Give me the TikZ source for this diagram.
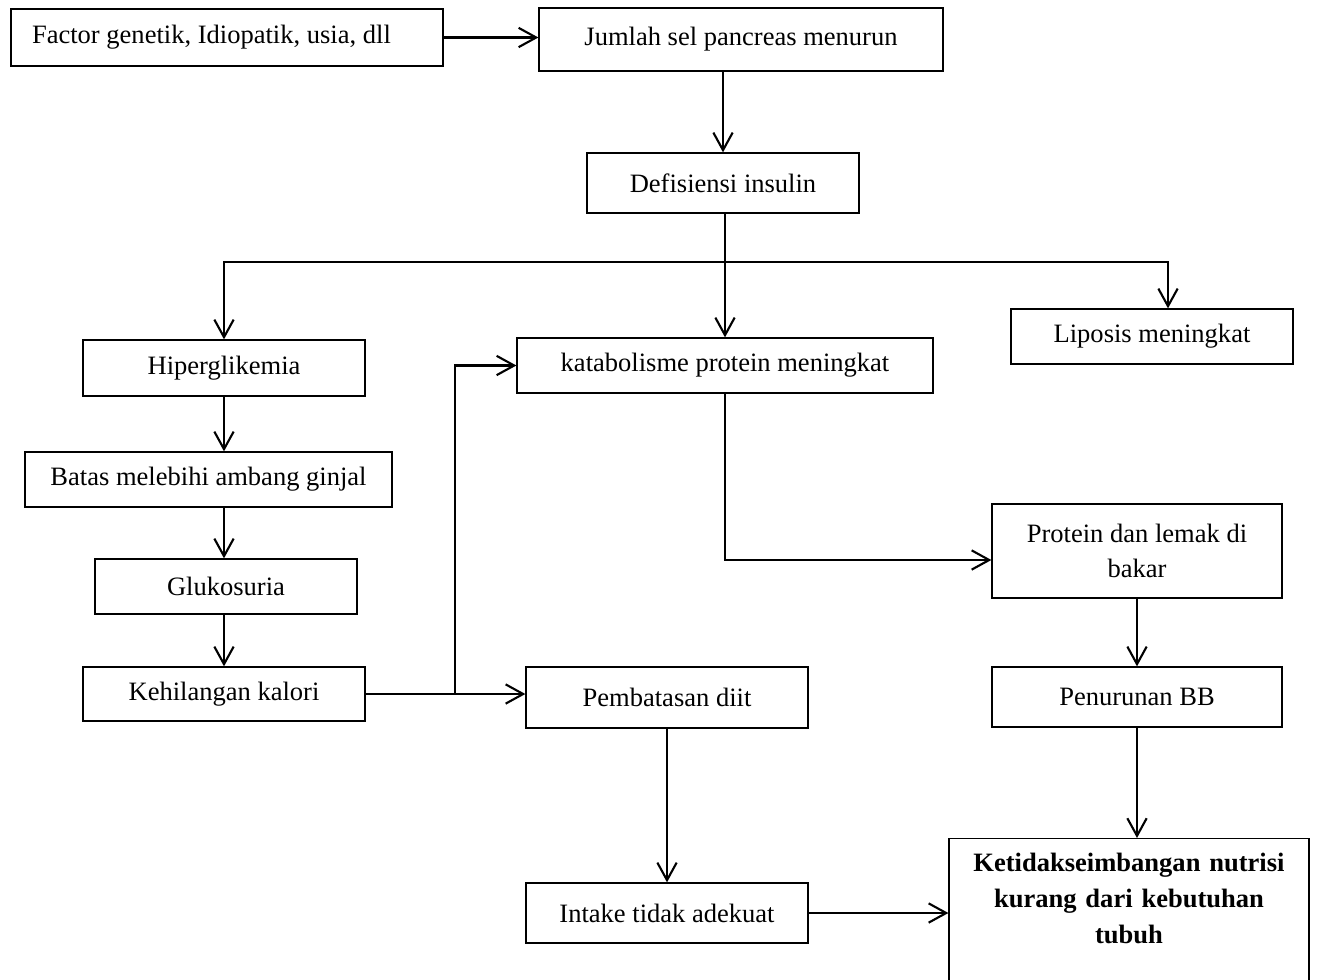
\documentclass[tikz,border=0pt]{standalone}
\usepackage{fontspec}
\setmainfont{Liberation Serif}
\usetikzlibrary{arrows.meta}

\tikzset{
  box/.style={draw, line width=0.75pt, inner sep=0pt, align=center},
  arr/.style={line width=1.2pt, -{Straight Barb[length=10pt,width=11pt]}},
  link/.style={line width=1.2pt}
}

\begin{document}
\begin{tikzpicture}[x=0.02cm, y=-0.02cm, font=\fontsize{15.1}{20}\selectfont]
        \useasboundingbox (0,0) rectangle (1318,980);

        % Top row
        \node[box, text width=7.8cm, inner xsep=0.42cm, align=flush left, minimum height=1.14cm] (factor) at (227,37.5) {Factor genetik, Idiopatik, usia, dll};
        \node[box, minimum width=8.08cm, minimum height=1.26cm] (jumlah) at (741,39.5) {Jumlah sel pancreas menurun};
        \node[box, minimum width=5.44cm, minimum height=1.2cm] (defisiensi) at (723,183) {Defisiensi insulin};

        % Three branches
        \node[box, minimum width=5.64cm, minimum height=1.12cm] (hiper) at (224,368) {Hiperglikemia};
        \node[box, minimum width=8.32cm, minimum height=1.1cm] (katabolisme) at (725,365.5) {katabolisme protein meningkat};
        \node[box, minimum width=5.64cm, minimum height=1.1cm] (liposis) at (1152,336.5) {Liposis meningkat};

        % Left column
        \node[box, minimum width=7.34cm, minimum height=1.1cm] (batas) at (208.5,479.5) {Batas melebihi ambang ginjal};
        \node[box, minimum width=5.24cm, minimum height=1.1cm] (glukosuria) at (226,586.5) {Glukosuria};
        \node[box, minimum width=5.64cm, minimum height=1.08cm] (kehilangan) at (224,694) {Kehilangan kalori};

        % Middle and right
        \node[box, minimum width=5.64cm, minimum height=1.22cm] (pembatasan) at (667,697.5) {Pembatasan diit};
        \node[box, minimum width=5.64cm, minimum height=1.2cm] (intake) at (667,913) {Intake tidak adekuat};
        \node[box, minimum width=5.8cm, minimum height=1.88cm] (protein) at (1137,551) {Protein dan lemak di\\bakar};
        \node[box, minimum width=5.8cm, minimum height=1.2cm] (penurunan) at (1137,697) {Penurunan BB};
        \node[box, anchor=north, text width=6.9cm, inner xsep=0.15cm, inner ysep=8pt, font=\fontsize{15.1}{20.6}\selectfont\bfseries] (ketidak) at (1129,838)
          {Ketidakseimbangan nutrisi\\kurang dari kebutuhan\\tubuh\\[40pt]\mbox{}};

        % Junction points
        \coordinate (split) at (725,262);
        \coordinate (fork) at (455,694);

        % Connectors
        \draw[arr] (factor.east) -- (factor.east -| jumlah.west);
        \draw[arr] (defisiensi.north |- jumlah.south) -- (defisiensi.north);
        \draw[link] (defisiensi.south -| split) -- (split);
        \draw[arr] (split) -| (hiper.north);
        \draw[arr] (split) -| ([xshift=0.32cm]liposis.north);
        \draw[arr] (split) -- (split |- katabolisme.north);
        \draw[arr] (hiper.south) -- (hiper.south |- batas.north);
        \draw[arr] (batas.south -| hiper.south) -- (hiper.south |- glukosuria.north);
        \draw[arr] (glukosuria.south -| hiper.south) -- (hiper.south |- kehilangan.north);
        \draw[arr] (kehilangan.east) -- (kehilangan.east -| pembatasan.west);
        \draw[arr] (fork) |- (katabolisme.west);
        \draw[arr] (katabolisme.south) |- ([yshift=-0.18cm]protein.west);
        \draw[arr] (protein.south) -- (protein.south |- penurunan.north);
        \draw[arr] (penurunan.south) -- (penurunan.south |- ketidak.north);
        \draw[arr] (pembatasan.south) -- (pembatasan.south |- intake.north);
        \draw[arr] (intake.east) -- (intake.east -| ketidak.west);
\end{tikzpicture}
\end{document}
